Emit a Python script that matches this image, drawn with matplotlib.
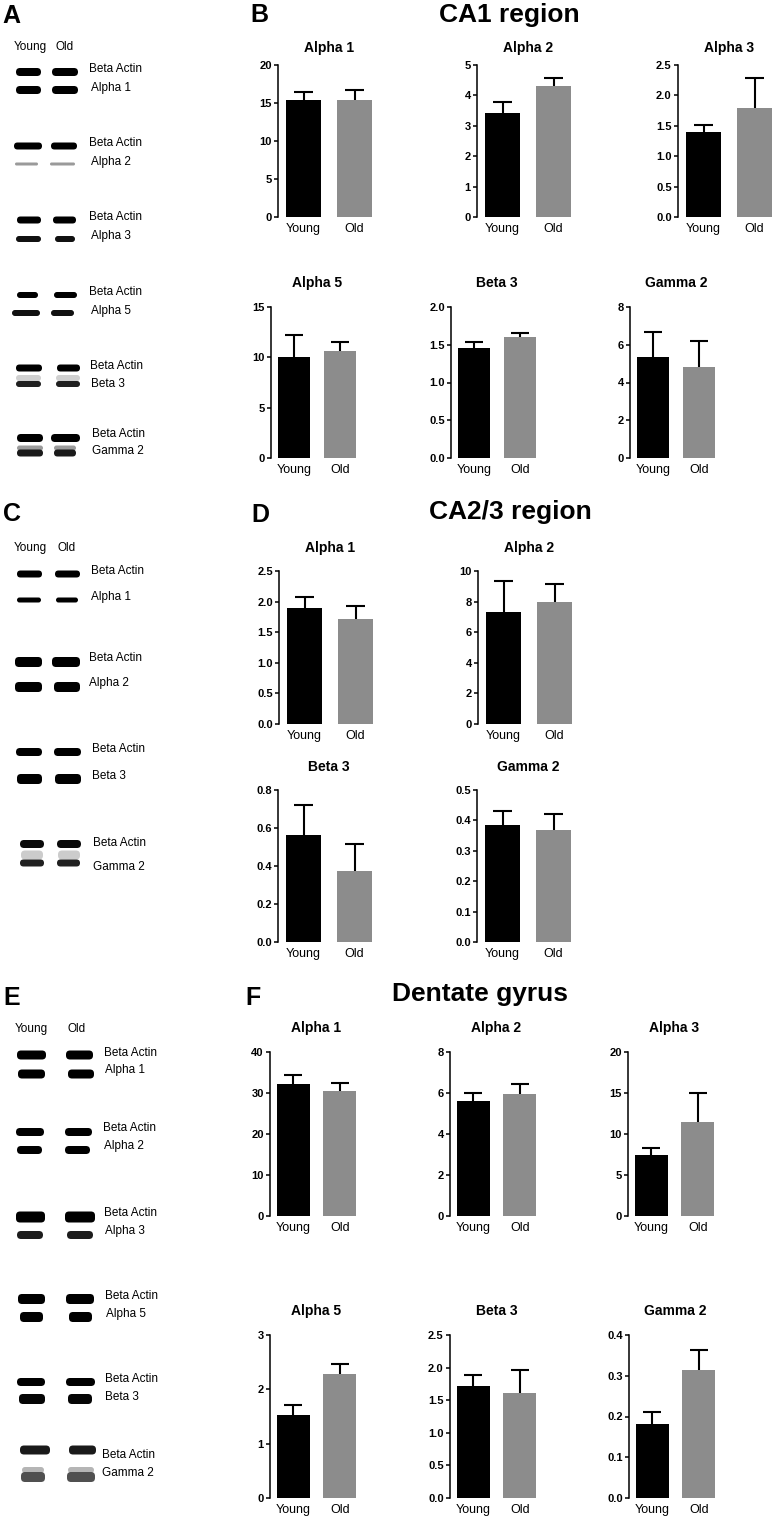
import matplotlib
matplotlib.use('Agg')
import matplotlib.pyplot as plt
from matplotlib.patches import FancyBboxPatch

plt.rcParams['font.family'] = ['Liberation Sans', 'DejaVu Sans']

W, H = 780, 1525

groups = ['Young', 'Old']
bar_colors = ['#000000', '#8c8c8c']

# CA1 region
ca1_titles = ['Alpha 1', 'Alpha 2', 'Alpha 3', 'Alpha 5', 'Beta 3', 'Gamma 2']
ca1_young = [15.4, 3.42, 1.40, 10.05, 1.46, 5.35]
ca1_young_sem = [1.1, 0.36, 0.12, 2.15, 0.07, 1.35]
ca1_old = [15.4, 4.31, 1.80, 10.65, 1.60, 4.82]
ca1_old_sem = [1.3, 0.27, 0.48, 0.85, 0.06, 1.38]
ca1_ymax = [20, 5, 2.5, 15, 2.0, 8]
ca1_step = [5, 1, 0.5, 5, 0.5, 2]

# CA2/3 region
ca23_titles = ['Alpha 1', 'Alpha 2', 'Beta 3', 'Gamma 2']
ca23_young = [1.90, 7.35, 0.565, 0.385]
ca23_young_sem = [0.18, 2.0, 0.155, 0.047]
ca23_old = [1.72, 7.95, 0.375, 0.368]
ca23_old_sem = [0.21, 1.2, 0.14, 0.052]
ca23_ymax = [2.5, 10, 0.8, 0.5]
ca23_step = [0.5, 2, 0.2, 0.1]

# Dentate gyrus
dg_titles = ['Alpha 1', 'Alpha 2', 'Alpha 3', 'Alpha 5', 'Beta 3', 'Gamma 2']
dg_young = [32.3, 5.6, 7.4, 1.52, 1.72, 0.182]
dg_young_sem = [2.2, 0.4, 0.9, 0.2, 0.16, 0.029]
dg_old = [30.4, 5.95, 11.5, 2.28, 1.61, 0.313]
dg_old_sem = [2.1, 0.5, 3.5, 0.18, 0.36, 0.049]
dg_ymax = [40, 8, 20, 3, 2.5, 0.4]
dg_step = [10, 2, 5, 1, 0.5, 0.1]

# axes placement in pixels: (spine x, top y, zero y, px per bar slot, title y)
ca1_layout = [(278, 65, 217, 51, 48), (477, 65, 217, 51, 48), (678, 65, 217, 51, 48),
              (271, 307, 458, 46, 283), (451, 307, 458, 46, 283), (630, 307, 458, 46, 283)]
ca23_layout = [(279, 571, 724, 51, 548), (478, 571, 724, 51, 548),
               (278, 790, 942, 51, 767), (477, 790, 942, 51, 767)]
dg_layout = [(270, 1052, 1216, 46.5, 1028), (450, 1052, 1216, 46.5, 1028), (628, 1052, 1216, 46.5, 1028),
             (270, 1335, 1498, 46.5, 1311), (450, 1335, 1498, 46.5, 1311), (629, 1335, 1498, 46.5, 1311)]

XL, XR = -0.5, 1.4

fig = plt.figure(figsize=(W / 100, H / 100), dpi=100)

# overlay in pixel coordinates for blots and panel text
ov = fig.add_axes([0, 0, 1, 1])
ov.set_xlim(0, W)
ov.set_ylim(H, 0)
ov.axis('off')


def bar_panel(title, young, ysem, old, osem, ymax, step, lay):
    sx, top, zero, u, ty = lay
    ax = fig.add_axes([sx / W, 1 - zero / H, (XR - XL) * u / W, (zero - top) / H])
    means = [young, old]
    tops = [young + ysem, old + osem]
    ax.bar([0, 1], means, width=0.7, color=bar_colors, zorder=2)
    # upper-only SEM whiskers with a cap, as in the original figure
    ax.vlines([0, 1], means, tops, colors='black', linewidth=1.5, zorder=3)
    ax.hlines(tops, [-0.19, 0.81], [0.19, 1.19], colors='black', linewidth=1.5, zorder=3)
    ax.set_xlim(XL, XR)
    ax.set_ylim(0, ymax)
    n = int(round(ymax / step))
    ticks = [i * step for i in range(n + 1)]
    ax.set_yticks(ticks)
    if step < 1:
        ax.set_yticklabels(['%.1f' % t for t in ticks])
    else:
        ax.set_yticklabels(['%d' % t for t in ticks])
    ax.set_xticks([0, 1])
    ax.set_xticklabels(groups, fontsize=9)
    for s in ['top', 'right', 'bottom']:
        ax.spines[s].set_visible(False)
    ax.spines['left'].set_linewidth(1.1)
    ax.tick_params(axis='y', direction='out', length=3, width=1.1, labelsize=8, pad=1.5)
    ax.tick_params(axis='x', length=0, pad=4)
    for lab in ax.get_yticklabels():
        lab.set_fontweight('bold')
    ax.patch.set_alpha(0)
    cx = sx + (0.5 - XL) * u
    fig.text(cx / W, 1 - ty / H, title, ha='center', va='center', fontsize=10, fontweight='bold')


for i in range(6):
    bar_panel(ca1_titles[i], ca1_young[i], ca1_young_sem[i], ca1_old[i], ca1_old_sem[i],
              ca1_ymax[i], ca1_step[i], ca1_layout[i])
for i in range(4):
    bar_panel(ca23_titles[i], ca23_young[i], ca23_young_sem[i], ca23_old[i], ca23_old_sem[i],
              ca23_ymax[i], ca23_step[i], ca23_layout[i])
for i in range(6):
    bar_panel(dg_titles[i], dg_young[i], dg_young_sem[i], dg_old[i], dg_old_sem[i],
              dg_ymax[i], dg_step[i], dg_layout[i])

# panel letters and region headings
for txt, x, y in [('A', 11, 16), ('B', 259, 15), ('C', 12, 514), ('D', 260, 515),
                  ('E', 12, 998), ('F', 253, 998)]:
    ov.text(x, y, txt, ha='center', va='center', fontsize=18, fontweight='bold')
for txt, x, y in [('CA1 region', 509, 15), ('CA2/3 region', 510, 512), ('Dentate gyrus', 480, 994)]:
    ov.text(x, y, txt, ha='center', va='center', fontsize=19, fontweight='bold')


# western blot strips: (label, label x, label y, band y, young x0, x1, old x0, x1, height, colour)
blot_a = [
    ('Beta Actin', 89, 69, 72, 16, 41, 52, 78, 8, '#000000'),
    ('Alpha 1', 91, 88, 90, 16, 41, 52, 78, 8, '#000000'),
    ('Beta Actin', 89, 143, 146, 14, 42, 51, 77, 7, '#000000'),
    ('Alpha 2', 91, 162, 164, 15, 38, 50, 75, 3, '#9a9a9a'),
    ('Beta Actin', 89, 217, 220, 17, 41, 53, 76, 7, '#000000'),
    ('Alpha 3', 91, 236, 239, 16, 41, 55, 75, 6, '#111111'),
    ('Beta Actin', 89, 292, 295, 17, 38, 54, 77, 6, '#000000'),
    ('Alpha 5', 91, 311, 313, 12, 40, 51, 74, 6, '#111111'),
    ('Beta Actin', 90, 366, 368, 16, 42, 57, 80, 7, '#000000'),
    ('Beta 3', 91, 384, 384, 16, 41, 56, 80, 6, '#202020'),
    ('Beta Actin', 92, 434, 438, 17, 43, 51, 80, 8, '#000000'),
    ('Gamma 2', 92, 451, 453, 17, 43, 54, 76, 7, '#1a1a1a'),
]
blot_c = [
    ('Beta Actin', 91, 571, 574, 17, 42, 55, 80, 7, '#000000'),
    ('Alpha 1', 91, 597, 600, 17, 41, 56, 78, 5, '#000000'),
    ('Beta Actin', 89, 658, 662, 15, 42, 52, 80, 10, '#000000'),
    ('Alpha 2', 89, 683, 687, 15, 42, 54, 80, 10, '#000000'),
    ('Beta Actin', 92, 749, 752, 16, 42, 54, 81, 8, '#000000'),
    ('Beta 3', 92, 776, 779, 17, 42, 55, 81, 10, '#000000'),
    ('Beta Actin', 93, 843, 844, 20, 44, 57, 81, 8, '#0a0a0a'),
    ('Gamma 2', 93, 867, 863, 20, 44, 57, 80, 7, '#202020'),
]
blot_e = [
    ('Beta Actin', 104, 1053, 1055, 17, 46, 66, 93, 9, '#000000'),
    ('Alpha 1', 105, 1070, 1074, 18, 45, 68, 94, 9, '#000000'),
    ('Beta Actin', 103, 1128, 1132, 16, 44, 65, 92, 8, '#000000'),
    ('Alpha 2', 104, 1146, 1150, 17, 42, 65, 90, 8, '#000000'),
    ('Beta Actin', 104, 1213, 1217, 16, 45, 65, 95, 11, '#000000'),
    ('Alpha 3', 105, 1231, 1235, 17, 43, 67, 93, 8, '#1c1c1c'),
    ('Beta Actin', 105, 1296, 1299, 18, 45, 66, 94, 10, '#000000'),
    ('Alpha 5', 106, 1314, 1317, 20, 43, 69, 92, 10, '#000000'),
    ('Beta Actin', 105, 1379, 1382, 17, 45, 66, 95, 8, '#000000'),
    ('Beta 3', 105, 1397, 1399, 19, 45, 68, 92, 10, '#050505'),
    ('Beta Actin', 102, 1455, 1450, 20, 50, 69, 96, 9, '#1a1a1a'),
    ('Gamma 2', 102, 1473, 1477, 21, 45, 67, 95, 10, '#505050'),
]
# faint smears above some bands: (band y, young x0, x1, old x0, x1, height, colour)
haze = [
    (378, 16, 41, 56, 80, 6, '#d0d0d0'),
    (448, 17, 43, 54, 76, 5, '#9c9c9c'),
    (855, 21, 43, 58, 80, 9, '#cccccc'),
    (1470, 22, 44, 68, 94, 6, '#b5b5b5'),
]


def band(x0, x1, yc, h, color):
    r = min(h / 2.0, 4)
    p = FancyBboxPatch((x0, yc - h / 2.0), x1 - x0, h,
                       boxstyle='round,pad=0,rounding_size=%g' % r,
                       facecolor=color, edgecolor='none')
    ov.add_patch(p)


for by, yx0, yx1, ox0, ox1, h, col in haze:
    band(yx0, yx1, by, h, col)
    band(ox0, ox1, by, h, col)

for rows in [blot_a, blot_c, blot_e]:
    for lab, lx, ly, by, yx0, yx1, ox0, ox1, h, col in rows:
        band(yx0, yx1, by, h, col)
        band(ox0, ox1, by, h, col)
        ov.text(lx, ly, lab, ha='left', va='center', fontsize=8.5)

for (yx, ox, y) in [(14, 56, 47), (14, 57, 548), (15, 67, 1029)]:
    ov.text(yx, y, 'Young', ha='left', va='center', fontsize=8.5)
    ov.text(ox, y, 'Old', ha='left', va='center', fontsize=8.5)

fig.savefig('out.png', dpi=100)
